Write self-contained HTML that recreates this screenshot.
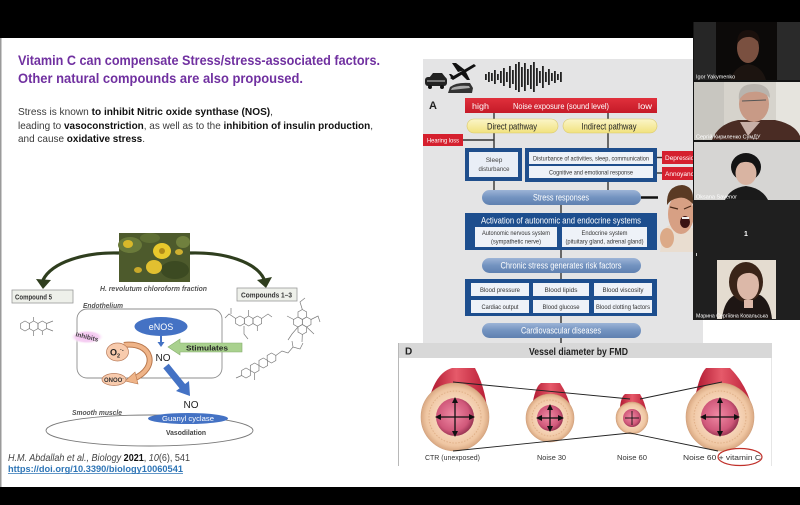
<!DOCTYPE html>
<html><head><meta charset="utf-8">
<style>
html,body{margin:0;padding:0;background:#000;width:800px;height:505px;overflow:hidden;}
svg{display:block;}
text{font-family:"Liberation Sans","DejaVu Sans","Noto Sans CJK SC",sans-serif;}
</style></head><body>
<svg width="800" height="505" viewBox="0 0 800 505" xmlns="http://www.w3.org/2000/svg">
<defs>
  <linearGradient id="pill" x1="0" y1="0" x2="0" y2="1">
    <stop offset="0" stop-color="#9db4d6"/><stop offset="0.5" stop-color="#7393c0"/><stop offset="1" stop-color="#5f80b0"/>
  </linearGradient>
  <linearGradient id="yel" x1="0" y1="0" x2="0" y2="1">
    <stop offset="0" stop-color="#fbf5c8"/><stop offset="1" stop-color="#f1e27e"/>
  </linearGradient>
  <linearGradient id="red" x1="0" y1="0" x2="0" y2="1">
    <stop offset="0" stop-color="#e0303c"/><stop offset="1" stop-color="#c51a28"/>
  </linearGradient>
  <linearGradient id="tube" x1="0" y1="0" x2="1" y2="0">
    <stop offset="0" stop-color="#b01830"/><stop offset="0.45" stop-color="#e65a6a"/><stop offset="1" stop-color="#b81c34"/>
  </linearGradient>
  <radialGradient id="lumen" cx="0.45" cy="0.45" r="0.6">
    <stop offset="0" stop-color="#f08aa4"/><stop offset="0.7" stop-color="#d0587a"/><stop offset="1" stop-color="#8a2a48"/>
  </radialGradient>
  <radialGradient id="wall" cx="0.5" cy="0.5" r="0.5">
    <stop offset="0.55" stop-color="#f6d4b8"/><stop offset="0.85" stop-color="#efc6a2"/><stop offset="1" stop-color="#d9a882"/>
  </radialGradient>
  <radialGradient id="glow" cx="0.5" cy="0.5" r="0.5">
    <stop offset="0" stop-color="#f3bdf0"/><stop offset="0.7" stop-color="#f6d2f3"/><stop offset="1" stop-color="#fff" stop-opacity="0"/>
  </radialGradient>
  <path id="hx" d="M0,-5 L4.33,-2.5 L4.33,2.5 L0,5 L-4.33,2.5 L-4.33,-2.5Z" fill="none" stroke="#7a7a7a" stroke-width="0.7"/>
  <marker id="ah" markerWidth="6" markerHeight="6" refX="3" refY="3" orient="auto" markerUnits="userSpaceOnUse">
    <path d="M0,0 L6,3 L0,6 Z" fill="#111"/>
  </marker>
</defs>

<rect width="800" height="505" fill="#000"/>
<rect x="0" y="38" width="800" height="449" fill="#fff"/>
<rect x="0" y="38" width="1.5" height="449" fill="#9a9a9a"/>

<!-- Title -->
<text x="18" y="65" font-size="14" font-weight="bold" fill="#7030a0" textLength="362" lengthAdjust="spacingAndGlyphs">Vitamin C can compensate Stress/stress-associated factors.</text>
<text x="18" y="83" font-size="14" font-weight="bold" fill="#7030a0" textLength="285" lengthAdjust="spacingAndGlyphs">Other natural compounds are also propoused.</text>

<text x="18" y="115" font-size="10.5" fill="#3a3a3a" textLength="255" lengthAdjust="spacingAndGlyphs">Stress is known <tspan font-weight="bold" fill="#111">to inhibit Nitric oxide synthase (NOS)</tspan>,</text>
<text x="18" y="129" font-size="10.5" fill="#3a3a3a" textLength="355" lengthAdjust="spacingAndGlyphs">leading to <tspan font-weight="bold" fill="#111">vasoconstriction</tspan>, as well as to the <tspan font-weight="bold" fill="#111">inhibition of insulin production</tspan>,</text>
<text x="18" y="142" font-size="10.5" fill="#3a3a3a" textLength="127" lengthAdjust="spacingAndGlyphs">and cause <tspan font-weight="bold" fill="#111">oxidative stress</tspan>.</text>

<!-- LEFT DIAGRAM -->
<!-- plant photo -->
<rect x="119" y="233" width="71" height="49" fill="#4d5a2c"/>
<ellipse cx="130" cy="245" rx="12" ry="8" fill="#6a7a3a"/>
<ellipse cx="175" cy="270" rx="14" ry="9" fill="#3c4a22"/>
<ellipse cx="150" cy="238" rx="10" ry="5" fill="#5e6e34"/>
<ellipse cx="183" cy="242" rx="7" ry="6" fill="#70803e"/>
<ellipse cx="128" cy="244" rx="5" ry="4" fill="#d9b82a"/>
<ellipse cx="162" cy="251" rx="9" ry="8" fill="#e8c82c"/>
<ellipse cx="154" cy="267" rx="8" ry="7" fill="#e2c030"/>
<ellipse cx="138" cy="270" rx="4" ry="3" fill="#c8a82a"/>
<ellipse cx="179" cy="252" rx="4" ry="3" fill="#cfb030"/>
<ellipse cx="162" cy="251" rx="3" ry="3" fill="#b08a18"/>
<!-- arrows -->
<path d="M119,253 C85,252 52,262 43,280" fill="none" stroke="#2f3e1e" stroke-width="3.2"/>
<polygon points="36,279 51,280 43,289" fill="#2f3e1e"/>
<path d="M190,253 C225,252 256,262 264,279" fill="none" stroke="#2f3e1e" stroke-width="3.2"/>
<polygon points="257,280 272,277 266,288" fill="#2f3e1e"/>
<text x="153.5" y="291" font-size="7" font-style="italic" font-weight="bold" fill="#555" text-anchor="middle" textLength="107" lengthAdjust="spacingAndGlyphs">H. revolutum chloroform fraction</text>

<rect x="12" y="290" width="61" height="13" fill="#eef0ea" stroke="#9a9a9a" stroke-width="0.8"/>
<text x="15" y="299.5" font-size="7" font-weight="bold" fill="#333" textLength="37" lengthAdjust="spacingAndGlyphs">Compound 5</text>
<rect x="237" y="288" width="60" height="13" fill="#eef0ea" stroke="#9a9a9a" stroke-width="0.8"/>
<text x="241" y="297.5" font-size="7" font-weight="bold" fill="#333" textLength="51" lengthAdjust="spacingAndGlyphs">Compounds 1–3</text>

<!-- molecules -->
<g>
  <use href="#hx" x="25" y="326"/><use href="#hx" x="33.66" y="326"/><use href="#hx" x="42.32" y="326"/>
  <path d="M33.66,321 L33.66,317 M46.65,323.5 L53,321 M46.65,328.5 L53,331 M42.32,331 L42.32,335 M33.66,331 L33.66,336" stroke="#7a7a7a" stroke-width="0.7" fill="none"/>
  <use href="#hx" x="240" y="321"/><use href="#hx" x="248.66" y="321"/><use href="#hx" x="257.32" y="321"/>
  <path d="M235.7,318.5 L229,314 L225,318 M231,314 L231,308 M261.6,318.5 L268,314 L272,317 M244,326 L244,334 L248,339 M248.66,316 L248.66,310 M257.32,326 L257.32,331" stroke="#7a7a7a" stroke-width="0.7" fill="none"/>
  <use href="#hx" x="298" y="322"/><use href="#hx" x="306.66" y="322"/><use href="#hx" x="302.33" y="314.5"/><use href="#hx" x="302.33" y="329.5"/>
  <path d="M302.33,309.5 L300,302 L305,298 M311,319.5 L318,316 L320,322 M306.66,327 L314,334 M298,327 L292,334 L288,340 M293.7,319.5 L287,316 M302.33,334.5 L302,342" stroke="#7a7a7a" stroke-width="0.7" fill="none"/>
  <use href="#hx" x="246" y="373"/><use href="#hx" x="254.66" y="368"/><use href="#hx" x="263.32" y="363"/><use href="#hx" x="271.5" y="358"/>
  <path d="M241.7,375.5 L236,378 M275.8,355.5 L282,351 L288,353 L293,347 L300,349 L303,343 M293,347 L292,341 M254.66,373 L254.66,380" stroke="#7a7a7a" stroke-width="0.7" fill="none"/>
</g>

<text x="83" y="308" font-size="7" font-style="italic" font-weight="bold" fill="#555" textLength="40" lengthAdjust="spacingAndGlyphs">Endothelium</text>
<rect x="77" y="309" width="145" height="69" rx="10" fill="none" stroke="#8e8e8e" stroke-width="0.9"/>

<ellipse cx="161" cy="326.5" rx="26.5" ry="9.5" fill="#4472c4"/>
<text x="161" y="330" font-size="9" fill="#fff" text-anchor="middle">eNOS</text>
<line x1="161" y1="336" x2="161" y2="343" stroke="#4472c4" stroke-width="2"/>
<polygon points="157.5,342 164.5,342 161,347" fill="#4472c4"/>
<text x="163" y="361" font-size="10" fill="#222" text-anchor="middle">NO</text>

<!-- stimulates arrow -->
<polygon points="168,347 180,339 180,343 242,343 242,352 180,352 180,355" fill="#a9d18e" stroke="#86ad6c" stroke-width="0.6"/>
<text x="207" y="350.5" font-size="7" font-weight="bold" fill="#222" text-anchor="middle" textLength="42" lengthAdjust="spacingAndGlyphs">Stimulates</text>

<!-- inhibits -->
<ellipse cx="87" cy="337" rx="17" ry="7" fill="url(#glow)"/>
<text x="87" y="339" font-size="6.5" font-weight="bold" fill="#444" text-anchor="middle" transform="rotate(14 87 337)">Inhibits</text>

<!-- orange curved arrow -->
<path d="M124,345 C152,341 160,368 133,379" fill="none" stroke="#b8784e" stroke-width="6"/>
<path d="M124,345 C152,341 160,368 133,379" fill="none" stroke="#efb488" stroke-width="4"/>
<polygon points="125,381 135,372 138,384" fill="#efb488" stroke="#b8784e" stroke-width="0.6"/>

<ellipse cx="117.5" cy="352" rx="11" ry="9" fill="#f8cbad" stroke="#b87a58" stroke-width="0.7"/>
<text x="110" y="355.5" font-size="9" font-weight="bold" fill="#222">O<tspan font-size="5.5" dy="2">2</tspan><tspan font-size="5.5" dy="-6">·-</tspan></text>
<ellipse cx="114" cy="379.5" rx="12" ry="6" fill="#f8cbad" stroke="#b87a58" stroke-width="0.7"/>
<text x="104" y="382" font-size="6" font-weight="bold" fill="#333">ONOO<tspan font-size="4" dy="-3">-</tspan></text>

<!-- big blue arrow -->
<line x1="166" y1="366" x2="183" y2="387" stroke="#4472c4" stroke-width="7"/>
<polygon points="190,396 176,391 189,381" fill="#4472c4"/>
<text x="191" y="408" font-size="10" fill="#222" text-anchor="middle">NO</text>

<text x="72" y="415" font-size="7" font-style="italic" font-weight="bold" fill="#555" textLength="50" lengthAdjust="spacingAndGlyphs">Smooth muscle</text>
<ellipse cx="149.5" cy="430.5" rx="103.5" ry="15.5" fill="none" stroke="#7a7a7a" stroke-width="0.9"/>
<ellipse cx="188" cy="418.5" rx="40" ry="5.5" fill="#4472c4"/>
<text x="188" y="421" font-size="7" fill="#fff" text-anchor="middle" textLength="52" lengthAdjust="spacingAndGlyphs">Guanyl cyclase</text>
<text x="186" y="435" font-size="7" font-weight="bold" fill="#444" text-anchor="middle" textLength="40" lengthAdjust="spacingAndGlyphs">Vasodilation</text>

<!-- citation -->
<text x="8" y="461" font-size="10" fill="#444" textLength="182" lengthAdjust="spacingAndGlyphs"><tspan font-style="italic">H.M. Abdallah et al., Biology </tspan><tspan font-weight="bold" fill="#111">2021</tspan>, <tspan font-style="italic">10</tspan>(6), 541</text>
<text x="8" y="472" font-size="9.5" font-weight="bold" fill="#2e75b6" textLength="175" lengthAdjust="spacingAndGlyphs">https://doi.org/10.3390/biology10060541</text>
<line x1="8" y1="473.5" x2="183" y2="473.5" stroke="#2e75b6" stroke-width="0.8"/>

<!-- FIGURE A -->
<rect x="423" y="59" width="280" height="284" fill="#e4e4e5"/>
<!-- car -->
<path d="M429,78 L433,73 L442,73 L446,78 Z" fill="#222"/>
<rect x="425" y="77" width="22" height="9" rx="3" fill="#222"/>
<rect x="427" y="80" width="18" height="2" fill="#777"/>
<circle cx="430" cy="87" r="2" fill="#111"/><circle cx="442" cy="87" r="2" fill="#111"/>
<!-- plane -->
<path d="M450,78 L474,64 L476,66 L453,80 Z" fill="#111"/>
<path d="M458,72 L452,63 L456,63 L465,70 Z M466,72 L470,80 L467,80 L461,74 Z M452,79 L449,74 L451,74 L455,77 Z" fill="#111"/>
<!-- train -->
<path d="M448,93 L450,87 Q456,82 470,83 L473,88 L472,93 Z" fill="#333"/>
<path d="M452,88 Q458,85 469,86 L470,88 L451,90 Z" fill="#aaa"/>
<!-- waveform -->
<g fill="#222">
  <rect x="485" y="74" width="1.8" height="6"/><rect x="488" y="72" width="1.8" height="10"/><rect x="491" y="73" width="1.8" height="8"/>
  <rect x="494" y="70" width="1.8" height="14"/><rect x="497" y="74" width="1.8" height="6"/><rect x="500" y="71" width="1.8" height="12"/>
  <rect x="503" y="68" width="1.8" height="18"/><rect x="506" y="72" width="1.8" height="10"/><rect x="509" y="66" width="1.8" height="22"/>
  <rect x="512" y="70" width="1.8" height="14"/><rect x="515" y="64" width="1.8" height="26"/><rect x="518" y="62" width="1.8" height="30"/>
  <rect x="521" y="67" width="1.8" height="20"/><rect x="524" y="63" width="1.8" height="28"/><rect x="527" y="69" width="1.8" height="16"/>
  <rect x="530" y="65" width="1.8" height="24"/><rect x="533" y="62" width="1.8" height="30"/><rect x="536" y="68" width="1.8" height="18"/>
  <rect x="539" y="71" width="1.8" height="12"/><rect x="542" y="66" width="1.8" height="22"/><rect x="545" y="72" width="1.8" height="10"/>
  <rect x="548" y="69" width="1.8" height="16"/><rect x="551" y="73" width="1.8" height="8"/><rect x="554" y="71" width="1.8" height="12"/>
  <rect x="557" y="74" width="1.8" height="6"/><rect x="560" y="72" width="1.8" height="10"/>
</g>
<text x="429" y="109" font-size="11" font-weight="bold" fill="#222">A</text>

<rect x="465" y="98" width="192" height="15" fill="url(#red)"/>
<text x="472" y="109" font-size="8.5" fill="#fff" textLength="17" lengthAdjust="spacingAndGlyphs">high</text>
<text x="513" y="109" font-size="8.5" fill="#fff" textLength="96" lengthAdjust="spacingAndGlyphs">Noise exposure (sound level)</text>
<text x="638" y="109" font-size="8.5" fill="#fff" textLength="14" lengthAdjust="spacingAndGlyphs">low</text>

<g stroke="#333" stroke-width="1.4">
  <line x1="494" y1="113" x2="494" y2="119"/><line x1="608" y1="113" x2="608" y2="119"/>
  <line x1="494" y1="133" x2="494" y2="148"/><line x1="608" y1="133" x2="608" y2="148"/>
  <line x1="463" y1="140" x2="494" y2="140"/>
  <line x1="494" y1="181" x2="494" y2="190"/><line x1="608" y1="182" x2="608" y2="190"/>
  <line x1="657" y1="157.5" x2="662" y2="157.5"/><line x1="657" y1="173" x2="662" y2="173"/>
  <line x1="561" y1="205" x2="561" y2="213"/><line x1="561" y1="250" x2="561" y2="258"/>
  <line x1="561" y1="273" x2="561" y2="279"/><line x1="561" y1="316" x2="561" y2="323"/>
  <line x1="561" y1="338" x2="561" y2="344"/>
</g>

<rect x="467" y="119" width="91" height="14" rx="7" fill="url(#yel)" stroke="#d9c86a" stroke-width="0.6"/>
<text x="512" y="129.5" font-size="9" fill="#222" text-anchor="middle" textLength="50" lengthAdjust="spacingAndGlyphs">Direct pathway</text>
<rect x="563" y="119" width="94" height="14" rx="7" fill="url(#yel)" stroke="#d9c86a" stroke-width="0.6"/>
<text x="609" y="129.5" font-size="9" fill="#222" text-anchor="middle" textLength="55" lengthAdjust="spacingAndGlyphs">Indirect pathway</text>

<rect x="423" y="134" width="40" height="12" fill="#d5202e"/>
<text x="443" y="142.5" font-size="6" fill="#fff" text-anchor="middle" textLength="32" lengthAdjust="spacingAndGlyphs">Hearing loss</text>

<rect x="465" y="148" width="57" height="33" fill="#1f4e8c"/>
<rect x="469" y="152" width="49" height="25" fill="#e9eef6"/>
<text x="494" y="162" font-size="6.5" fill="#444" text-anchor="middle">Sleep</text>
<text x="494" y="171" font-size="6.5" fill="#444" text-anchor="middle" textLength="31" lengthAdjust="spacingAndGlyphs">disturbance</text>

<rect x="525" y="148" width="132" height="34" fill="#1f4e8c"/>
<rect x="529" y="152" width="124" height="12" fill="#eef2f8"/>
<rect x="529" y="166" width="124" height="12" fill="#eef2f8"/>
<text x="591" y="160.5" font-size="6.5" fill="#333" text-anchor="middle" textLength="116" lengthAdjust="spacingAndGlyphs">Disturbance of activities, sleep, communication</text>
<text x="591" y="174.5" font-size="6.5" fill="#333" text-anchor="middle" textLength="84" lengthAdjust="spacingAndGlyphs">Cognitive and emotional response</text>

<rect x="662" y="151" width="42" height="13" fill="#d5202e"/>
<text x="665" y="160" font-size="6.5" fill="#fff">Depression</text>
<rect x="662" y="167" width="42" height="13" fill="#d5202e"/>
<text x="665" y="176" font-size="6.5" fill="#fff">Annoyance</text>

<rect x="482" y="190" width="159" height="15" rx="7.5" fill="url(#pill)"/>
<text x="561" y="200.5" font-size="9" fill="#fff" text-anchor="middle" textLength="56" lengthAdjust="spacingAndGlyphs">Stress responses</text>
<line x1="641" y1="197.5" x2="668" y2="197.5" stroke="#111" stroke-width="2.5"/>

<rect x="465" y="213" width="192" height="37" fill="#1d4e8e"/>
<text x="561" y="223.5" font-size="9" fill="#fff" text-anchor="middle" textLength="160" lengthAdjust="spacingAndGlyphs">Activation of  autonomic and endocrine systems</text>
<rect x="475" y="227" width="82" height="20" fill="#eef2f8"/>
<rect x="562" y="227" width="85" height="20" fill="#eef2f8"/>
<text x="516" y="235" font-size="6.3" fill="#333" text-anchor="middle" textLength="68" lengthAdjust="spacingAndGlyphs">Autonomic nervous system</text>
<text x="516" y="243.5" font-size="6.3" fill="#333" text-anchor="middle" textLength="50" lengthAdjust="spacingAndGlyphs">(sympathetic nerve)</text>
<text x="604.5" y="235" font-size="6.3" fill="#333" text-anchor="middle" textLength="46" lengthAdjust="spacingAndGlyphs">Endocrine system</text>
<text x="604.5" y="243.5" font-size="6.3" fill="#333" text-anchor="middle" textLength="78" lengthAdjust="spacingAndGlyphs">(pituitary gland, adrenal gland)</text>

<rect x="482" y="258" width="159" height="15" rx="7.5" fill="url(#pill)"/>
<text x="561" y="268.5" font-size="9" fill="#fff" text-anchor="middle" textLength="121" lengthAdjust="spacingAndGlyphs">Chronic stress generates risk factors</text>

<rect x="465" y="279" width="192" height="37" fill="#1d4e8e"/>
<g fill="#eef2f8">
  <rect x="471" y="283" width="58" height="13"/><rect x="533" y="283" width="56" height="13"/><rect x="594" y="283" width="58" height="13"/>
  <rect x="471" y="300" width="58" height="13"/><rect x="533" y="300" width="56" height="13"/><rect x="594" y="300" width="58" height="13"/>
</g>
<g font-size="6.3" fill="#333" text-anchor="middle">
  <text x="500" y="292" textLength="40" lengthAdjust="spacingAndGlyphs">Blood pressure</text>
  <text x="561" y="292" textLength="33" lengthAdjust="spacingAndGlyphs">Blood lipids</text>
  <text x="623" y="292" textLength="41" lengthAdjust="spacingAndGlyphs">Blood viscosity</text>
  <text x="500" y="309" textLength="37" lengthAdjust="spacingAndGlyphs">Cardiac output</text>
  <text x="561" y="309" textLength="37" lengthAdjust="spacingAndGlyphs">Blood glucose</text>
  <text x="623" y="309" textLength="54" lengthAdjust="spacingAndGlyphs">Blood clotting factors</text>
</g>

<rect x="482" y="323" width="159" height="15" rx="7.5" fill="url(#pill)"/>
<text x="561" y="333.5" font-size="9" fill="#fff" text-anchor="middle" textLength="80" lengthAdjust="spacingAndGlyphs">Cardiovascular diseases</text>

<!-- angry man -->
<rect x="658" y="183" width="35" height="69" fill="#e4e4e5"/>
<path d="M660,252 L663,232 Q668,222 676,226 L693,228 L693,252 Z" fill="#e9ddd0"/>
<ellipse cx="681" cy="214" rx="13" ry="20" fill="#d7a084"/>
<path d="M667,205 Q666,186 682,185 Q693,186 693,198 L693,204 Q686,196 678,198 Q671,199 667,205 Z" fill="#5a3a24"/>
<ellipse cx="685" cy="222" rx="5" ry="6" fill="#3a1212"/>
<rect x="682" y="217" width="7" height="2" fill="#f2f2f2"/>
<path d="M670,207 L678,209 M684,209 L691,206" stroke="#4a2a1a" stroke-width="1.2"/>
<ellipse cx="667" cy="238" rx="7" ry="10" fill="#dcaa88"/>

<!-- FIGURE D -->
<rect x="398" y="343" width="374" height="15" fill="#d8d8d8"/>
<rect x="398" y="358" width="374" height="108" fill="#fff"/>
<line x1="398.5" y1="343" x2="398.5" y2="466" stroke="#b8b8b8" stroke-width="1"/>
<line x1="771.5" y1="358" x2="771.5" y2="466" stroke="#e6e6e6" stroke-width="1"/>
<text x="405" y="354.5" font-size="10" font-weight="bold" fill="#222">D</text>
<text x="529" y="355" font-size="10.5" font-weight="bold" fill="#222" textLength="99" lengthAdjust="spacingAndGlyphs">Vessel diameter by FMD</text>

<!-- vessels -->
<path d="M431,393 Q438,372 452,368 L475,368 Q484,385 487,407 Z" fill="url(#tube)"/>
<circle cx="455" cy="417" r="34" fill="url(#wall)" stroke="#d0a07c" stroke-width="0.6"/>
<circle cx="455" cy="417" r="26" fill="none" stroke="#e0b088" stroke-width="1" stroke-dasharray="1.5 1.5"/>
<circle cx="455" cy="417" r="19" fill="url(#lumen)"/>

<path d="M533,401 Q536,386 541,383 L560,383 Q568,395 572,412 Z" fill="url(#tube)"/>
<circle cx="550" cy="418" r="24" fill="url(#wall)" stroke="#d0a07c" stroke-width="0.6"/>
<circle cx="550" cy="418" r="18" fill="none" stroke="#e0b088" stroke-width="1" stroke-dasharray="1.5 1.5"/>
<circle cx="550" cy="418" r="13" fill="url(#lumen)"/>

<path d="M620,407 Q621,397 625,394 L640,394 Q645,402 647,414 Z" fill="url(#tube)"/>
<circle cx="632" cy="418" r="16" fill="url(#wall)" stroke="#d0a07c" stroke-width="0.6"/>
<circle cx="632" cy="418" r="9" fill="url(#lumen)"/>

<path d="M696,393 Q700,374 706,368 L730,368 Q746,384 752,407 Z" fill="url(#tube)"/>
<circle cx="720" cy="417" r="34" fill="url(#wall)" stroke="#d0a07c" stroke-width="0.6"/>
<circle cx="720" cy="417" r="26" fill="none" stroke="#e0b088" stroke-width="1" stroke-dasharray="1.5 1.5"/>
<circle cx="720" cy="417" r="19" fill="url(#lumen)"/>

<g stroke="#111" stroke-width="1.3" marker-end="url(#ah)">
  <line x1="455" y1="417" x2="455" y2="400"/><line x1="455" y1="417" x2="455" y2="434"/>
  <line x1="455" y1="417" x2="438" y2="417"/><line x1="455" y1="417" x2="472" y2="417"/>
  <line x1="550" y1="418" x2="550" y2="407"/><line x1="550" y1="418" x2="550" y2="429"/>
  <line x1="550" y1="418" x2="539" y2="418"/><line x1="550" y1="418" x2="561" y2="418"/>
  <line x1="720" y1="417" x2="720" y2="400"/><line x1="720" y1="417" x2="720" y2="434"/>
  <line x1="720" y1="417" x2="703" y2="417"/><line x1="720" y1="417" x2="737" y2="417"/>
</g>
<g stroke="#111" stroke-width="0.9">
  <line x1="632" y1="411" x2="632" y2="425"/><line x1="625" y1="418" x2="639" y2="418"/>
</g>

<g stroke="#222" stroke-width="0.9" fill="none">
  <polyline points="453,382 630,399"/>
  <polyline points="640,399 722,382"/>
  <polyline points="453,451 630,433 718,451"/>
</g>

<g font-size="7.5" fill="#333" text-anchor="middle">
  <text x="452.5" y="460" textLength="55" lengthAdjust="spacingAndGlyphs">CTR (unexposed)</text>
  <text x="551.5" y="460" textLength="29" lengthAdjust="spacingAndGlyphs">Noise 30</text>
  <text x="632" y="460" textLength="30" lengthAdjust="spacingAndGlyphs">Noise 60</text>
  <text x="722" y="460" textLength="78" lengthAdjust="spacingAndGlyphs">Noise 60 + vitamin C</text>
</g>
<ellipse cx="740" cy="457" rx="22" ry="8.5" fill="none" stroke="#c0302a" stroke-width="1.2"/>

<!-- VIDEO COLUMN -->
<rect x="693" y="22" width="107" height="298" fill="#141414"/>
<!-- tile 1 -->
<rect x="694" y="22" width="22" height="58" fill="#262626"/>
<rect x="716" y="22" width="61" height="58" fill="#0c0a09"/>
<rect x="777" y="22" width="23" height="58" fill="#2a2a2a"/>
<path d="M730,80 Q735,66 748,64 Q762,66 766,80 Z" fill="#1c1410"/>
<ellipse cx="748" cy="48" rx="11" ry="15" fill="#7a5040"/>
<path d="M737,44 Q737,30 748,30 Q760,30 760,44 Q754,36 748,37 Q741,37 737,44 Z" fill="#1a100c"/>
<text x="696" y="78.5" font-size="5.5" fill="#fff">Igor Yakymenko</text>
<!-- tile 2 -->
<rect x="694" y="82" width="106" height="58" fill="#d6d3cc"/>
<rect x="694" y="82" width="30" height="58" fill="#c8c6c0"/>
<rect x="776" y="82" width="24" height="58" fill="#e6e4de"/>
<path d="M712,140 Q718,124 738,120 L775,120 Q795,124 800,136 L800,140 Z" fill="#4a2c24"/>
<path d="M740,122 L748,136 L760,122 Z" fill="#c8b0a8"/>
<ellipse cx="754" cy="104" rx="15" ry="18" fill="#c89a86"/>
<path d="M739,100 Q737,84 754,84 Q770,84 770,98 Q762,90 752,92 Q744,92 739,100 Z" fill="#b8b4ae"/>
<path d="M742,101 L766,100" stroke="#555" stroke-width="1"/>
<text x="696" y="138.5" font-size="5.5" fill="#fff">Сергій Кириленко СумДУ</text>
<!-- tile 3 -->
<rect x="694" y="142" width="106" height="58" fill="#d6d5d3"/>
<path d="M725,200 Q730,188 746,186 Q762,188 768,200 Z" fill="#1a1a1a"/>
<ellipse cx="746" cy="167" rx="15" ry="14" fill="#141414"/>
<ellipse cx="746" cy="173" rx="10.5" ry="12" fill="#d9b4a2"/>
<path d="M735,166 Q738,156 748,157 Q756,158 757,166 Q750,161 744,162 Q738,163 735,166 Z" fill="#141414"/>
<text x="696" y="198.5" font-size="5.5" fill="#fff">Oksana Savenor</text>
<!-- tile 4 -->
<rect x="693" y="200" width="107" height="120" fill="#1f1f1f"/>
<text x="746" y="236" font-size="7" font-weight="bold" fill="#fff" text-anchor="middle">1</text>
<rect x="696" y="253" width="1" height="3" fill="#ccc"/>
<rect x="717" y="260" width="59" height="59" fill="#e4dcd0"/>
<path d="M722,319 Q724,300 735,295 L760,295 Q770,300 772,319 Z" fill="#1e1614"/>
<ellipse cx="746" cy="282" rx="17" ry="20" fill="#3a2418"/>
<ellipse cx="748" cy="285" rx="11" ry="15" fill="#dcb8a8"/>
<path d="M737,280 Q738,266 749,266 Q760,267 760,280 Q754,272 748,273 Q741,273 737,280 Z" fill="#3a2418"/>
<rect x="744" y="300" width="9" height="8" fill="#dcb8a8"/>
<text x="696" y="317.5" font-size="5.2" fill="#fff">Марина Сергіївна Ковальська</text>
</svg>
</body></html>
